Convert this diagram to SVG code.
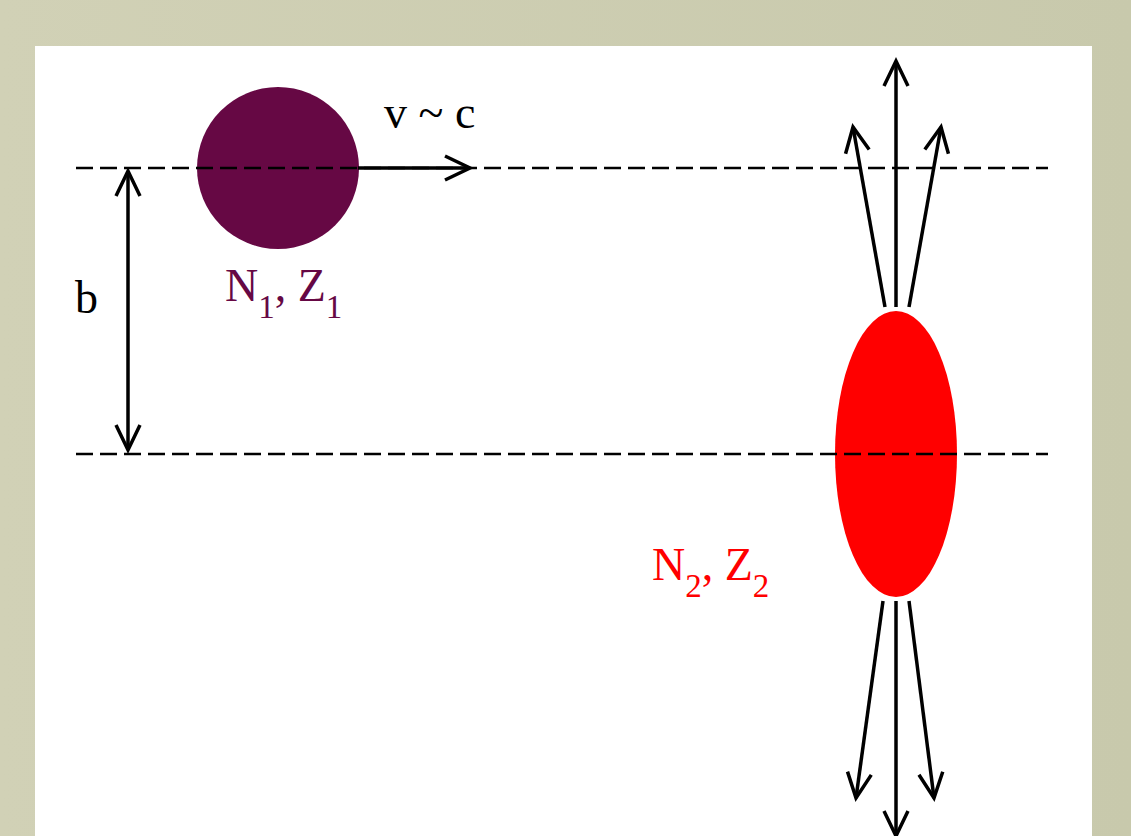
<svg xmlns="http://www.w3.org/2000/svg" width="1131" height="836" viewBox="0 0 1131 836">
<defs>
<linearGradient id="bg" x1="0" y1="0" x2="1" y2="0">
<stop offset="0" stop-color="#d1d1b6"/>
<stop offset="1" stop-color="#c8c9ac"/>
</linearGradient>
<marker id="ah" markerUnits="userSpaceOnUse" markerWidth="40" markerHeight="40" viewBox="-30 -20 40 40" refX="0" refY="0" orient="auto">
<path d="M-25,-12 L0,0 L-25,12" fill="none" stroke="#000" stroke-width="3.5"/>
</marker>
<style>
.dash{stroke:#000;stroke-width:2.5;stroke-dasharray:17 7;fill:none}
.arr{stroke:#000;stroke-width:3.5;fill:none;marker-end:url(#ah)}
.t{font-family:"Liberation Serif","Times New Roman",serif;font-size:46px}
.sub{font-size:33px}
</style>
</defs>
<rect x="0" y="0" width="1131" height="836" fill="url(#bg)"/>
<rect x="35" y="46" width="1057" height="800" fill="#fff"/>
<g id="nucleus1">
<circle cx="278" cy="168" r="81" fill="#660844"/>
<text class="t" x="225" y="301" fill="#660844">N<tspan class="sub" dy="17">1</tspan><tspan dy="-17">, Z</tspan><tspan class="sub" dy="17">1</tspan></text>
</g>
<g id="nucleus2">
<ellipse cx="896" cy="454" rx="61" ry="143" fill="#ff0000"/>
<text class="t" x="652" y="580" fill="#ff0000">N<tspan class="sub" dy="17">2</tspan><tspan dy="-17">, Z</tspan><tspan class="sub" dy="17">2</tspan></text>
</g>
<g id="connectors">
<line class="dash" x1="76" y1="168" x2="1048" y2="168"/>
<line class="dash" x1="76" y1="454" x2="1048" y2="454"/>
<line class="arr" x1="358" y1="168" x2="470" y2="168"/>
<line class="arr" x1="128" y1="300" x2="128" y2="171"/>
<line class="arr" x1="128" y1="300" x2="128" y2="450"/>
<line class="arr" x1="896" y1="307" x2="896" y2="61"/>
<line class="arr" x1="885" y1="307" x2="853" y2="127"/>
<line class="arr" x1="909" y1="307" x2="941" y2="127"/>
<line class="arr" x1="896" y1="601" x2="896" y2="836"/>
<line class="arr" x1="883" y1="601" x2="856" y2="798"/>
<line class="arr" x1="909" y1="601" x2="934" y2="798"/>
</g>
<g id="labels">
<text class="t" x="384" y="128">v ~ c</text>
<text class="t" x="75" y="313">b</text>
</g>
</svg>
